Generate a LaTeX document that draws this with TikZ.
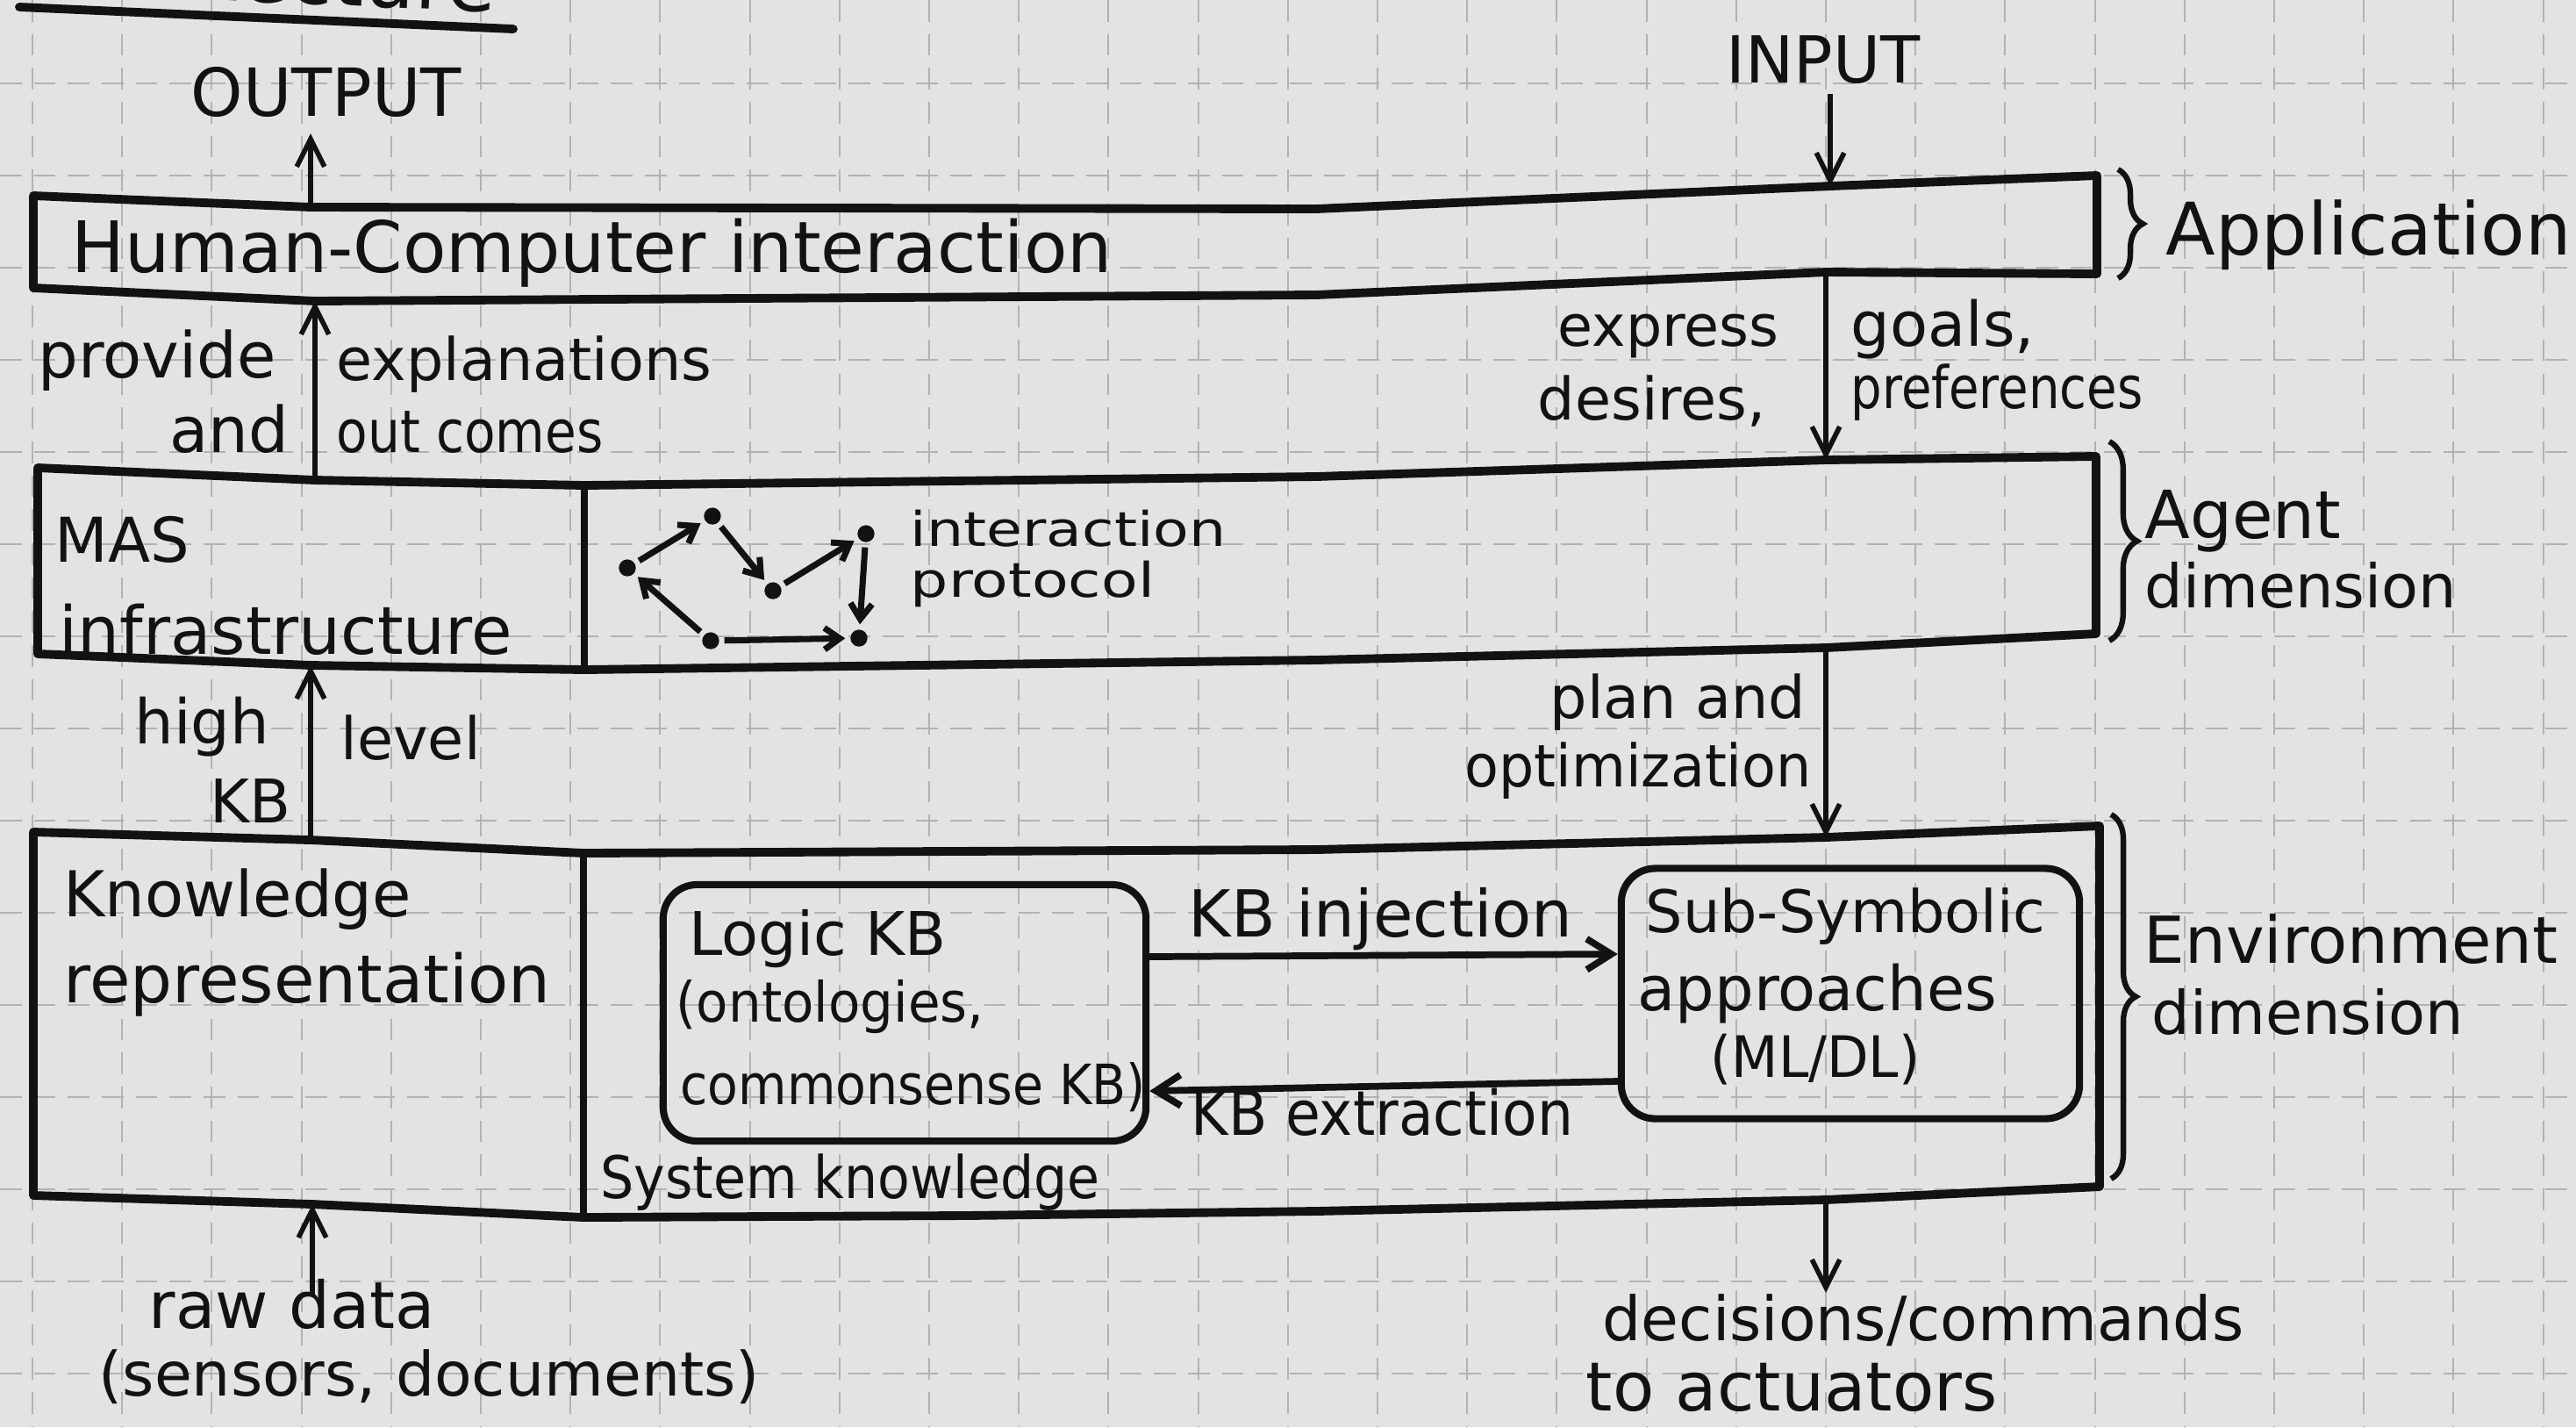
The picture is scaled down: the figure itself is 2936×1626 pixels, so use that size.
\documentclass[tikz,border=0pt]{standalone}
\usepackage{fontspec}
\setmainfont{DejaVu Sans}
\usetikzlibrary{arrows.meta,decorations.pathreplacing,calc}

\definecolor{paper}{RGB}{227,227,227}
\definecolor{gridc}{RGB}{178,178,178}
\definecolor{ink}{RGB}{18,18,18}

\tikzset{
  hand/.style={inner sep=0pt, anchor=base west, text=ink, font=\fontsize{#1}{#1}\selectfont},
  hand/.default=20,
  gridline/.style={draw=gridc, line width=0.6pt, dash pattern=on 7pt off 4pt},
  boxline/.style={draw=ink, line width=2.8pt, line join=round, line cap=round},
  divline/.style={draw=ink, line width=2.2pt, line cap=round},
  roundbox/.style={draw=ink, line width=2.3pt, rounded corners=11pt, inner sep=0pt},
  flow/.style={draw=ink, line width=1.6pt, -{Straight Barb[length=9pt,width=9pt]}},
  kbflow/.style={draw=ink, line width=2.2pt, -{Straight Barb[length=8pt,width=10pt]}},
  agentdot/.style={circle, fill=ink, inner sep=0pt, minimum size=5.5pt},
  protoarrow/.style={draw=ink, line width=2pt, shorten >=1.5pt, shorten <=1.5pt,
    -{Straight Barb[length=5pt,width=7pt]}},
  dimbrace/.style={draw=ink, line width=1.8pt, decorate, decoration={brace, amplitude=#1}},
}

\begin{document}
\begin{tikzpicture}[x=0.01cm, y=-0.01cm]
  \useasboundingbox (0,0) rectangle (2936,1626);
  \fill[paper] (0,0) rectangle (2936,1626);

  % squared paper
  \foreach \k in {0,...,28}
    \draw[gridline] ({37+102.2*\k},0) -- ({37+102.2*\k},1626);
  \foreach \m in {1,...,15}
    \draw[gridline] (0,{-10+105*\m}) -- (2936,{-10+105*\m});

  % heading
  \node[hand=26, anchor=base east, rotate=-2.5] (title) at (565,14) {Architecture};
  \coordinate (ulA) at (22,8);
  \coordinate (ulB) at (585,33);
  \draw[boxline] (ulA) -- (ulB);

  % ---------------- application layer ----------------
  \coordinate (hciOut) at (354,236);
  \coordinate (hciIn) at (2086,212);
  \coordinate (hciProv) at (359,343);
  \coordinate (hciExp) at (2081,310);
  \draw[boxline] (38,223) -- (hciOut) -- (1500,238) -- (hciIn) -- (2390,200)
    -- (2390,312) -- (hciExp) -- (1500,336) -- (hciProv) -- (38,328) -- cycle;

  \node[hand=23] (hci) at (81,310) {Human-Computer interaction};
  \node[hand=23.5] (app) at (2468,290) {Application};
  \draw[dimbrace=8pt] (2414,193) -- (2414,317);

  \node[hand=21.5] (output) at (217,132) {OUTPUT};
  \node[hand=21] (input) at (1967,94) {INPUT};
  \coordinate (outTip) at (354,152);
  \coordinate (inTail) at (2086,107);
  \draw[flow] (hciOut) -- (outTip);
  \draw[flow] (inTail) -- (hciIn);

  % ---------------- agent layer ----------------
  \coordinate (masProv) at (359,547);
  \coordinate (masDiv) at (666,553);
  \coordinate (masExp) at (2081,524);
  \coordinate (masPlan) at (2081,738);
  \coordinate (masDivB) at (666,763);
  \coordinate (masHigh) at (354,758);
  \draw[boxline] (43,533) -- (masProv) -- (masDiv) -- (1500,543) -- (masExp) -- (2389,520)
    -- (2389,722) -- (masPlan) -- (1500,752) -- (masDivB) -- (masHigh) -- (43,745) -- cycle;
  \draw[divline] (masDiv) -- (masDivB);

  \draw[flow] (masProv) -- (hciProv);
  \draw[flow] (hciExp) -- (masExp);

  \node[hand=20.5] (provide) at (43,430) {provide};
  \node[hand=20.5, anchor=base east] (and) at (330,515) {and};
  \node[hand=19] (expl) at (383,433) {explanations};
  \node[hand=19, xscale=0.87] (outc) at (383,515) {out comes};

  \node[hand=18.5] (express) at (1775,394) {express};
  \node[hand=19] (desires) at (1752,478) {desires,};
  \node[hand=20] (goals) at (2109,394) {goals,};
  \node[hand=19, xscale=0.84] (prefs) at (2109,465) {preferences};

  \node[hand=20] (mas) at (62,640) {MAS};
  \node[hand=21.5] (infra) at (67,745) {infrastructure};

  % interaction protocol sketch
  \node[agentdot] (pA) at (715,647) {};
  \node[agentdot] (pB) at (812,588) {};
  \node[agentdot] (pC) at (881,673) {};
  \node[agentdot] (pD) at (987,608) {};
  \node[agentdot] (pE) at (979,727) {};
  \node[agentdot] (pF) at (810,730) {};
  \draw[protoarrow] (pA) -- (pB);
  \draw[protoarrow] (pB) -- (pC);
  \draw[protoarrow] (pC) -- (pD);
  \draw[protoarrow] (pD) -- (pE);
  \draw[protoarrow] (pF) -- (pE);
  \draw[protoarrow] (pF) -- (pA);
  \node[hand=15.5, xscale=1.22] (inter) at (1037,622) {interaction};
  \node[hand=15.5, xscale=1.25] (proto) at (1037,680) {protocol};

  \node[hand=21.5] (agent) at (2444,613) {Agent};
  \node[hand=19.5] (dimA) at (2444,692) {dimension};
  \draw[dimbrace=9pt] (2404,503) -- (2404,730);

  % ---------------- environment layer ----------------
  \coordinate (envHigh) at (354,957);
  \coordinate (envDiv) at (665,972);
  \coordinate (envPlan) at (2081,954);
  \coordinate (envDec) at (2081,1367);
  \coordinate (envDivB) at (665,1387);
  \coordinate (envRaw) at (356,1372);
  \draw[boxline] (38,948) -- (envHigh) -- (envDiv) -- (1500,968) -- (envPlan) -- (2393,941)
    -- (2393,1352) -- (envDec) -- (1500,1380) -- (1100,1385) -- (envDivB) -- (envRaw)
    -- (38,1362) -- cycle;
  \draw[divline] (envDiv) -- (envDivB);

  \draw[flow] (envHigh) -- (masHigh);
  \draw[flow] (masPlan) -- (envPlan);

  \node[hand=20] (high) at (153,847) {high};
  \node[hand=19.5] (kbl) at (239,937) {KB};
  \node[hand=19] (level) at (388,865) {level};
  \node[hand=19] (plan) at (1766,818) {plan and};
  \node[hand=19, xscale=0.95] (optim) at (1669,896) {optimization};

  \node[hand=20.5] (know) at (72,1044) {Knowledge};
  \node[hand=21.5] (repr) at (72,1142) {representation};

  \node[roundbox, minimum width=5.5cm, minimum height=2.92cm] (logic) at (1031,1154) {};
  \node[roundbox, minimum width=5.22cm, minimum height=2.85cm] (sub) at (2109,1132) {};
  \draw[kbflow] ($(logic.east)+(0,-64)$) -- ($(sub.west)+(0,-45)$);
  \draw[kbflow] ($(sub.west)+(0,100)$) -- ($(logic.east)+(0,89)$);

  \node[hand=19.5] (logicA) at (785,1088) {Logic KB};
  \node[hand=18, xscale=0.94] (logicB) at (770,1164) {(ontologies,};
  \node[hand=18, xscale=0.9] (logicC) at (775,1258) {commonsense KB)};
  \node[hand=21] (inj) at (1354,1067) {KB injection};
  \node[hand=20, xscale=0.92] (ext) at (1357,1293) {KB extraction};
  \node[hand=19] (subA) at (1875,1062) {Sub-Symbolic};
  \node[hand=20] (subB) at (1866,1151) {approaches};
  \node[hand=18.5, xscale=0.95] (subC) at (1949,1227) {(ML/DL)};
  \node[hand=19, xscale=0.9] (sysk) at (684,1365) {System knowledge};

  \node[hand=21] (env) at (2443,1097) {Environment};
  \node[hand=19.5] (dimE) at (2452,1178) {dimension};
  \draw[dimbrace=8pt] (2406,928) -- (2406,1343);

  % ---------------- outside world ----------------
  \coordinate (rawTail) at (356,1477);
  \coordinate (decTip) at (2081,1473);
  \draw[flow] (rawTail) -- (envRaw);
  \draw[flow] (envDec) -- (decTip);

  \node[hand=21] (raw) at (169,1513) {raw data};
  \node[hand=19.8] (sens) at (112,1590) {(sensors, documents)};
  \node[hand=19.8] (dec) at (1826,1527) {decisions/commands};
  \node[hand=22] (act) at (1807,1607) {to actuators};
\end{tikzpicture}
\end{document}
